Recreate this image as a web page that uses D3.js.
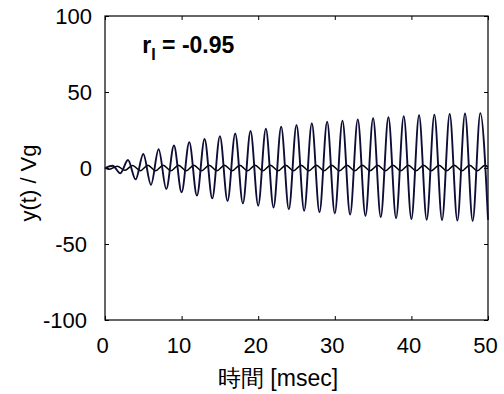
<!DOCTYPE html>
<html>
<head>
<meta charset="utf-8">
<script src="https://cdn.jsdelivr.net/npm/d3@7"></script>
<style>
  body { margin: 0; background: #fff; }
  svg text { font-family: "Liberation Sans", Arial, sans-serif; fill: #000; }
</style>
</head>
<body>
<svg id="chart"></svg>
<script>
// values: extrema of each trace, in msec / (y/Vg)
const bigTimes = [0, 1, 2, 3, 4, 5, 6, 7, 8, 9, 10, 11, 12, 13, 14, 15, 16, 17, 18, 19, 20,
  21, 22, 23, 24, 25, 26, 27, 28, 29, 30, 31, 32, 33, 34, 35, 36, 37, 38, 39, 40,
  41, 42, 43, 44, 45, 46, 47, 48, 49, 50];
const bigValues = [0, 1.5, -3.5, 5.3, -7.5, 9.2, -11, 12.3, -13.8, 14.8, -16, 17, -18.2, 19.1, -20, 21,
  -21.7, 22.7, -23.3, 24.3, -24.8, 25.8, -26, 27.1, -27.2, 28.3, -28.2, 29.4, -29.1, 30.4, -29.9,
  31.2, -30.7, 32, -31.5, 32.7, -32.3, 33.4, -33, 34.1, -33.6, 34.7, -34, 35.1, -34.3, 35.5,
  -34.6, 35.9, -34.8, 36.1, -34];

const smallTimes = [0, 0.6, 1.6, 2.6, 3.6, 4.6, 5.6, 6.6, 7.6, 8.6, 9.6, 10.6, 11.6, 12.6, 13.6,
  14.6, 15.6, 16.6, 17.6, 18.6, 19.6, 20.6, 21.6, 22.6, 23.6, 24.6, 25.6, 26.6, 27.6, 28.6,
  29.6, 30.6, 31.6, 32.6, 33.6, 34.6, 35.6, 36.6, 37.6, 38.6, 39.6, 40.6, 41.6, 42.6, 43.6,
  44.6, 45.6, 46.6, 47.6, 48.6, 49.6, 50];
const smallValues = [0, -0.8, 1.2, -1.5, 1.7, -1.8, 1.8, -1.8, 1.8, -1.8, 1.8, -1.8, 1.8, -1.8, 1.8,
  -1.8, 1.8, -1.8, 1.8, -1.8, 1.8, -1.8, 1.8, -1.8, 1.8, -1.8, 1.8, -1.8, 1.8, -1.8,
  1.8, -1.8, 1.8, -1.8, 1.8, -1.8, 1.8, -1.8, 1.8, -1.8, 1.8, -1.8, 1.8, -1.8, 1.8,
  -1.8, 1.8, -1.8, 1.8, -1.8, 1.8, 0.6];

const xTicks = [0, 10, 20, 30, 40, 50];
const yTicks = [-100, -50, 0, 50, 100];

const WIDTH = 504;
const HEIGHT = 394;
const margin = {top: 16, right: 16, bottom: 74, left: 105};
const plotW = WIDTH - margin.left - margin.right;
const plotH = HEIGHT - margin.top - margin.bottom;

const svg = d3.select('#chart')
  .attr('width', WIDTH)
  .attr('height', HEIGHT);

const g = svg.append('g')
  .attr('transform', `translate(${margin.left},${margin.top})`);

const x = d3.scaleLinear().domain([0, 50]).range([0, plotW]);
const y = d3.scaleLinear().domain([-100, 100]).range([plotH, 0]);

// plain hyphen for negatives, like the original
const fmt = d => String(d);

// bottom + left axes carry labels, ticks point inward
const xAxis = g.append('g')
  .attr('transform', `translate(0,${plotH})`)
  .call(d3.axisBottom(x).tickValues(xTicks).tickSize(-4).tickPadding(17).tickFormat(fmt));
const yAxis = g.append('g')
  .call(d3.axisLeft(y).tickValues(yTicks).tickSize(-4).tickPadding(13).tickFormat(fmt));
// top + right only ticks
g.append('g')
  .call(d3.axisTop(x).tickValues(xTicks).tickSize(-4).tickFormat(''));
g.append('g')
  .attr('transform', `translate(${plotW},0)`)
  .call(d3.axisRight(y).tickValues(yTicks).tickSize(-4).tickFormat(''));

g.selectAll('.domain').remove();
g.selectAll('.tick line').attr('stroke', '#000');
xAxis.selectAll('text').attr('font-size', 22).attr('font-family', null).attr('dx', -3);
yAxis.selectAll('text').attr('font-size', 22).attr('font-family', null)
  .attr('dx', d => d < 0 ? -5 : 0);

// the frame
g.append('rect')
  .attr('width', plotW)
  .attr('height', plotH)
  .attr('fill', 'none')
  .attr('stroke', '#000')
  .attr('stroke-width', 1.2);

const line = d3.line()
  .x(d => x(d[0]))
  .y(d => y(d[1]))
  .curve(d3.curveMonotoneX);

const big = bigTimes.map((t, i) => [t, bigValues[i]]);
const small = smallTimes.map((t, i) => [t, smallValues[i]]);

g.append('path')
  .datum(small)
  .attr('d', line)
  .attr('fill', 'none')
  .attr('stroke', '#000')
  .attr('stroke-width', 1.5);

g.append('path')
  .datum(big)
  .attr('d', line)
  .attr('fill', 'none')
  .attr('stroke', '#0d0d36')
  .attr('stroke-width', 1.9);

// annotation r_I = -0.95
const ann = g.append('text')
  .attr('x', x(5) - 1)
  .attr('y', 37)
  .attr('font-size', 23)
  .attr('font-weight', 'bold');
ann.append('tspan').text('r');
ann.append('tspan').attr('font-size', 16).attr('dy', 7).text('I');
ann.append('tspan').attr('dy', -7).text(' = -0.95');

// axis labels
svg.append('text')
  .attr('x', 278)
  .attr('y', 386)
  .attr('text-anchor', 'middle')
  .attr('font-size', 23)
  .text('時間 [msec]');

svg.append('text')
  .attr('transform', 'translate(36,183) rotate(-90)')
  .attr('text-anchor', 'middle')
  .attr('font-size', 22)
  .text('y(t) / Vg');
</script>
</body>
</html>
